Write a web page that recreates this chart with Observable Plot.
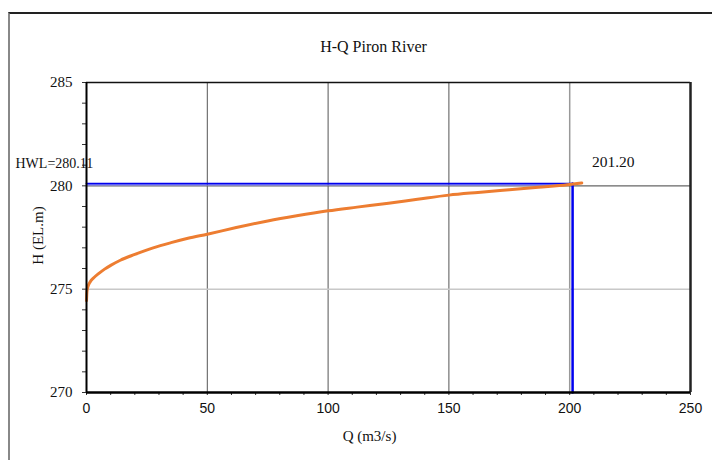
<!DOCTYPE html>
<html>
<head>
<meta charset="utf-8">
<script src="https://cdn.jsdelivr.net/npm/d3@7"></script>
<script src="https://cdn.jsdelivr.net/npm/@observablehq/plot@0.6"></script>
<style>
  body { margin: 0; background: white; }
  #wrap { position: relative; width: 712px; height: 460px; }
  #border { position: absolute; left: 8px; top: 12px; right: 0; bottom: 0;
            border-top: 2px solid #222; border-left: 2px solid #888; pointer-events: none; }
</style>
</head>
<body>
<div id="wrap"><div id="border"></div></div>
<script>
const title = "H-Q Piron River";
const xLabel = "Q (m3/s)";
const yLabel = "H (EL.m)";

// Rating curve
const curveQ = [0, 0.2, 0.6, 1.5, 3, 5, 7.5, 10, 14, 20, 27.6, 35, 42, 50, 62, 75, 87, 100, 112, 125, 137, 150, 162, 175, 187, 199, 205];
const curveH = [274.44, 274.9, 275.12, 275.35, 275.55, 275.75, 275.97, 276.15, 276.40, 276.68, 277.0, 277.25, 277.46, 277.66, 277.98, 278.30, 278.55, 278.79, 278.97, 279.16, 279.35, 279.55, 279.68, 279.81, 279.93, 280.05, 280.14];

const hwlQ = 201.20;
const hwlH = 280.11;

const xTicks = [0, 50, 100, 150, 200, 250];
const xMinor = d3.range(0, 251, 10);
const yTicks = [270, 275, 280, 285];
const yMinor = d3.range(270, 286, 1);

const curve = curveQ.map((q, i) => ({Q: q, H: curveH[i]}));
const hLine = [{Q: 0, H: hwlH}, {Q: hwlQ, H: hwlH}];
const vLine = [{Q: hwlQ, H: hwlH}, {Q: hwlQ, H: 270}];

const serif = "'Liberation Serif', 'Times New Roman', serif";
const sans = "'Liberation Sans', Arial, sans-serif";

const chart = Plot.plot({
  width: 712,
  height: 460,
  marginTop: 82,
  marginBottom: 68,
  marginLeft: 86,
  marginRight: 22,
  style: {background: "transparent", fontFamily: serif, color: "#111"},
  x: {domain: [0, 250]},
  y: {domain: [270, 285]},
  marks: [
    // grid
    Plot.ruleX([50, 100, 150], {stroke: "#555", strokeWidth: 1}),
    Plot.ruleX([200], {stroke: "#999", strokeWidth: 1.5}),
    Plot.ruleY([275], {stroke: "#c8c8c8", strokeWidth: 1.5}),
    Plot.ruleY([280], {stroke: "#666", strokeWidth: 1.2}),
    // frame
    Plot.ruleY([285], {stroke: "#111", strokeWidth: 1.5}),
    Plot.ruleX([250], {stroke: "#222", strokeWidth: 2.5}),
    // axes
    Plot.axisY({ticks: yMinor, tickSize: 4, text: null, label: null, stroke: "#333"}),
    Plot.axisY({ticks: yTicks, tickSize: 0, tickPadding: 14, label: null,
                fontSize: 15, fontFamily: serif, tickFormat: d => d}),
    Plot.axisX({ticks: xMinor, tickSize: 3, text: null, label: null, stroke: "#333"}),
    Plot.axisX({ticks: xTicks, tickSize: 0, tickPadding: 11, label: null,
                fontSize: 14, fontFamily: sans, tickFormat: d => d}),
    // HWL lines
    Plot.line(hLine, {x: "Q", y: d => d.H - 0.07, stroke: "#8080ff", strokeWidth: 1}),
    Plot.line(hLine, {x: "Q", y: "H", stroke: "#0000ee", strokeWidth: 1.8}),
    Plot.line(vLine, {x: "Q", y: "H", stroke: "#0000ee", strokeWidth: 2.5}),
    // curve
    Plot.line(curve, {x: "Q", y: "H", stroke: "#ED7D31", strokeWidth: 3, curve: "monotone-x"}),
    Plot.ruleX([0], {stroke: "#000", strokeWidth: 2}),
    Plot.ruleY([270], {stroke: "#000", strokeWidth: 2.5}),
    // labels
    Plot.text([title], {frameAnchor: "top-left", dx: 287, dy: -42, textAnchor: "middle",
                        fontSize: 16, fontFamily: serif, fill: "#111"}),
    Plot.text([xLabel], {frameAnchor: "bottom-left", dx: 283, dy: 48, textAnchor: "middle",
                         fontSize: 15, fontFamily: serif, fill: "#111"}),
    Plot.text([yLabel], {frameAnchor: "left", dx: -48, dy: -2, rotate: -90, textAnchor: "middle",
                         fontSize: 15, fontFamily: serif, fill: "#111"}),
    Plot.text([`HWL=${hwlH.toFixed(2)}`], {frameAnchor: "top-left", dx: -71, dy: 76, textAnchor: "start",
                         fontSize: 14, fontFamily: serif, fill: "#111"}),
    Plot.text([hwlQ.toFixed(2)], {x: 218, y: 281.13, textAnchor: "middle",
                         fontSize: 15.5, fontFamily: serif, fill: "#111"})
  ]
});
document.getElementById("wrap").prepend(chart);
</script>
</body>
</html>
